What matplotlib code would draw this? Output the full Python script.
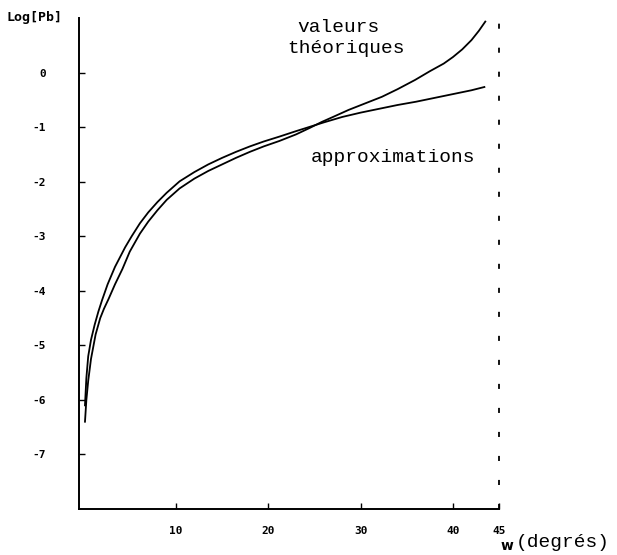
import matplotlib
matplotlib.use("Agg")
import matplotlib.pyplot as plt

# angle w (degres) and log[Pb]
x_approx = [0.15, 0.3, 0.5, 0.8, 1.2, 1.6, 2.0, 2.6, 3.4, 4.5, 5.2, 6.1, 7, 8, 9, 10.4, 12, 13.5, 15, 16.5,
            18, 19.5, 21.2, 23, 24.5, 26, 28, 30, 32, 34, 36, 38, 40, 42, 43.4]
y_approx = [-6.1, -5.6, -5.2, -4.9, -4.62, -4.38, -4.17, -3.88, -3.56, -3.2, -3.0, -2.76, -2.56, -2.37, -2.2,
            -1.99, -1.82, -1.68, -1.56, -1.45, -1.35, -1.26, -1.17, -1.07, -0.99, -0.91, -0.81, -0.73, -0.66,
            -0.59, -0.53, -0.46, -0.39, -0.32, -0.26]

x_theo = [0.15, 0.3, 0.5, 0.8, 1.3, 1.8, 2.2, 2.7, 3.4, 4.2, 5.0, 6.1, 7, 8, 9, 10.4, 12, 13.5, 15, 16.5, 18,
          19.5, 21.2, 23, 24.5, 25.8, 27, 28.7, 30.5, 32.3, 34, 35.9, 37.5, 39, 40, 41, 42, 42.8, 43.5]
y_theo = [-6.4, -6.0, -5.65, -5.25, -4.8, -4.5, -4.33, -4.15, -3.88, -3.6, -3.28, -2.95, -2.73, -2.52, -2.33,
          -2.12, -1.94, -1.8, -1.68, -1.56, -1.45, -1.35, -1.25, -1.13, -1.01, -0.90, -0.81, -0.68, -0.56,
          -0.44, -0.30, -0.13, 0.03, 0.17, 0.29, 0.43, 0.60, 0.77, 0.94]

y_ticks = [0, -1, -2, -3, -4, -5, -6, -7]
x_ticks = [10, 20, 30, 40, 45]

fig = plt.figure(figsize=(6.17, 5.55), dpi=100)
ax = fig.add_axes([0.128, 0.083, 0.681, 0.884])

ax.plot(x_approx, y_approx, color="black", lw=1.3)
ax.plot(x_theo, y_theo, color="black", lw=1.3)

# dashed limit at 45 degres
ax.axvline(45, color="black", lw=1.3, ls=(0, (2.8, 10.5)), clip_on=False)

ax.set_xlim(-0.5, 45)
ax.set_ylim(-8, 1)
ax.spines["top"].set_visible(False)
ax.spines["right"].set_visible(False)
ax.spines["left"].set_linewidth(1.4)
ax.spines["bottom"].set_linewidth(1.4)

ax.set_yticks(y_ticks)
ax.set_yticklabels([str(v) for v in y_ticks])
ax.set_xticks(x_ticks)
ax.set_xticklabels([str(v) for v in x_ticks])
ax.tick_params(axis="y", direction="in", length=4, width=1, pad=24)
ax.tick_params(axis="x", direction="in", length=4, width=1, pad=12)
for lab in ax.get_xticklabels() + ax.get_yticklabels():
    lab.set_family("DejaVu Sans Mono")
    lab.set_fontweight("bold")
    lab.set_fontsize(8)

mono = dict(family="Liberation Mono", fontsize=14, color="black")
ax.text(27.6, 0.75, "valeurs", ha="center", va="baseline", **mono)
ax.text(28.4, 0.37, "théoriques", ha="center", va="baseline", **mono)
ax.text(33.5, -1.63, "approximations", ha="center", va="baseline", **mono)

fig.text(0.01, 0.9676, "Log[Pb]", family="DejaVu Sans Mono", fontweight="bold", fontsize=9.5, va="center")
fig.text(0.812, 0.017, "w", family="DejaVu Sans", fontweight="bold", fontsize=10, va="center")
fig.text(0.836, 0.022, "(degrés)", family="Liberation Mono", fontsize=14, va="center")

fig.savefig("out.png", dpi=100)
